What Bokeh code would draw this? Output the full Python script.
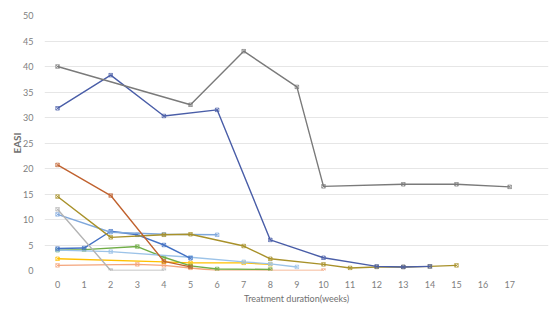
from bokeh.plotting import figure
from bokeh.models import FixedTicker, Range1d
from bokeh.embed import file_html
from bokeh.resources import INLINE

weeks = list(range(18))
y_ticks = [0, 5, 10, 15, 20, 25, 30, 35, 40, 45, 50]

s1_x = [0, 5, 7, 9, 10, 13, 15, 17]
s1_y = [40, 32.5, 43, 36, 16.5, 16.9, 16.9, 16.4]
s2_x = [0, 2, 4, 6, 8, 10, 12, 13, 14]
s2_y = [31.8, 38.3, 30.3, 31.5, 6.0, 2.5, 0.8, 0.7, 0.8]
s3_x = [0, 2, 4, 5]
s3_y = [20.7, 14.7, 1.8, 0.7]
s4_x = [0, 2, 4, 5, 7, 8, 10, 11, 12, 13, 14, 15]
s4_y = [14.5, 6.5, 7.0, 7.1, 4.8, 2.3, 1.2, 0.5, 0.7, 0.7, 0.8, 1.0]
s5_x = [0, 2, 4]
s5_y = [12.0, 0.0, 0.0]
s6_x = [0, 2, 4, 6]
s6_y = [11.0, 7.5, 7.1, 7.0]
s7_x = [0, 1, 2, 3, 4, 5]
s7_y = [4.3, 4.4, 7.7, 7.0, 5.0, 2.4]
s8_x = [0, 2, 5, 7, 8, 9]
s8_y = [4.0, 3.7, 2.6, 1.7, 1.3, 0.7]
s9_x = [0, 1, 3, 4, 5, 6, 8]
s9_y = [4.0, 4.1, 4.7, 2.6, 0.9, 0.3, 0.2]
s10_x = [0, 4, 5, 7, 8]
s10_y = [2.3, 1.7, 1.5, 1.5, 1.2]
s11_x = [0, 3, 4, 5, 6, 8, 10]
s11_y = [1.0, 1.2, 1.0, 0.5, 0.0, 0.0, 0.0]

series = [
    (s1_x, s1_y, "#7a7a7a"),
    (s2_x, s2_y, "#4a5ea8"),
    (s3_x, s3_y, "#c0622f"),
    (s4_x, s4_y, "#a8912a"),
    (s5_x, s5_y, "#b4b4b4"),
    (s6_x, s6_y, "#7fa8dc"),
    (s7_x, s7_y, "#4472c4"),
    (s8_x, s8_y, "#9cc3e8"),
    (s9_x, s9_y, "#70ad47"),
    (s10_x, s10_y, "#ffc000"),
    (s11_x, s11_y, "#f4a57c"),
]

p = figure(width=554, height=312, output_backend="svg", toolbar_location=None,
           x_range=Range1d(-0.49, 18.46), y_range=Range1d(0, 50),
           min_border_left=44, min_border_right=6, min_border_top=15, min_border_bottom=42)
p.outline_line_color = None
p.background_fill_color = "white"
p.border_fill_color = "white"

for xs, ys, c in series[::-1]:
    p.line(xs, ys, line_color=c, line_width=1.4)
    p.scatter(xs, ys, marker="square_x", size=3.5, line_color=c, fill_color=None, line_width=0.7)

font = "Lato"
p.xaxis.ticker = FixedTicker(ticks=weeks)
p.yaxis.ticker = FixedTicker(ticks=y_ticks)
for ax in (p.xaxis[0], p.yaxis[0]):
    ax.axis_line_color = None
    ax.major_tick_line_color = None
    ax.minor_tick_line_color = None
    ax.major_label_text_font = font
    ax.major_label_text_font_size = "9px"
    ax.major_label_text_color = "#808080"
    ax.axis_label_text_font = font
    ax.axis_label_text_color = "#707070"
p.xaxis.major_label_standoff = 4
p.yaxis.major_label_standoff = 5
p.xaxis.axis_label = "Treatment duration(weeks)"
p.xaxis.axis_label_text_font_size = "9px"
p.xaxis.axis_label_text_font_style = "normal"
p.xaxis.axis_label_standoff = 2
p.yaxis.axis_label = "EASI"
p.yaxis.axis_label_text_font_size = "10px"
p.yaxis.axis_label_text_font_style = "bold"
p.yaxis.axis_label_standoff = -3

p.xgrid.grid_line_color = None
p.ygrid.grid_line_color = "#e6e6e6"
p.ygrid.grid_line_width = 1

open("out.html", "w").write(file_html(p, INLINE))
